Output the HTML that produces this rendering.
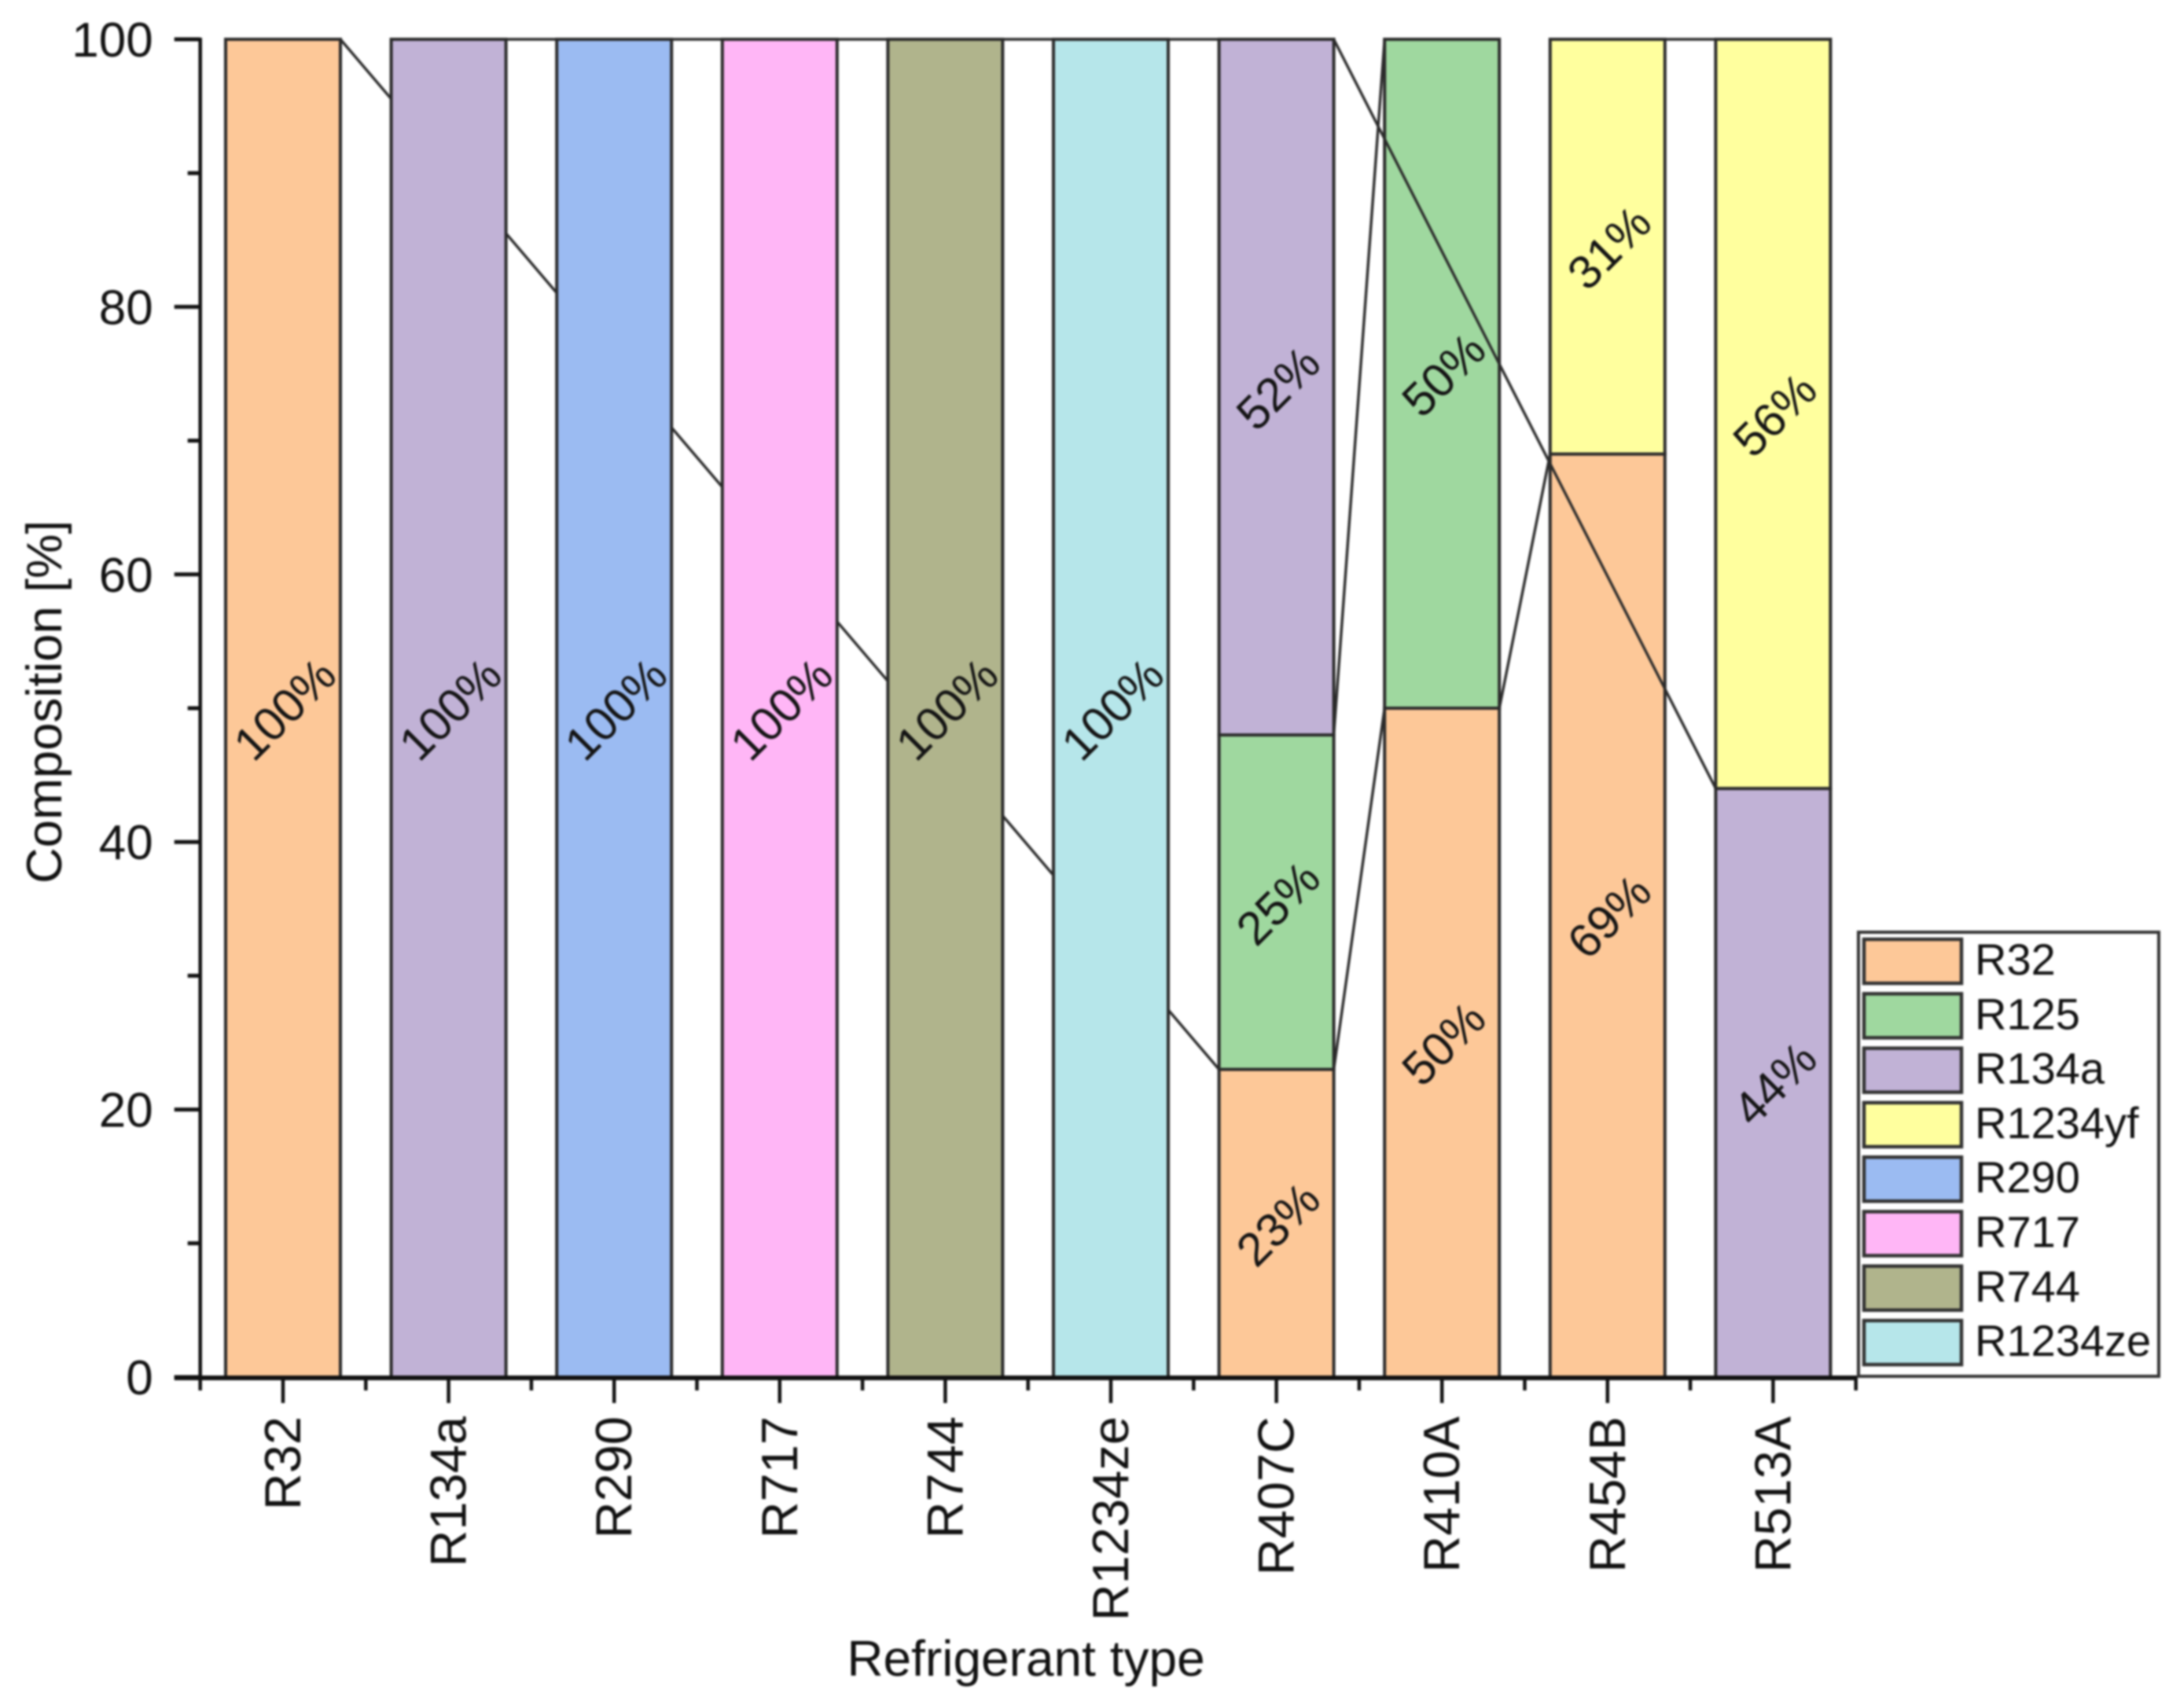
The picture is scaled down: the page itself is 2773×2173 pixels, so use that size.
<!DOCTYPE html>
<html lang="en">
<head>
<meta charset="utf-8">
<title>Refrigerant composition</title>
<style>
html,body{margin:0;padding:0;background:#fff;}
#chart{display:block;width:2773px;height:2173px;filter:blur(1.2px);font-family:"Liberation Sans",sans-serif;}
</style>
</head>
<body>
<svg id="chart" xmlns="http://www.w3.org/2000/svg" width="2773" height="2173" viewBox="0 0 2773 2173"></svg>
<script>
const categories = ["R32","R134a","R290","R717","R744","R1234ze","R407C","R410A","R454B","R513A"];
const seriesNames = ["R32","R125","R134a","R1234yf","R290","R717","R744","R1234ze"];
const seriesColors = ["#FDC898","#9FD89F","#C1B2D6","#FFFF9E","#9BBBF2","#FFB6F6","#B0B48C","#B6E6EA"];
const r32Values = [100,0,0,0,0,0,23,50,69,0];
const r125Values = [0,0,0,0,0,0,25,50,0,0];
const r134aValues = [0,100,0,0,0,0,52,0,0,44];
const r1234yfValues = [0,0,0,0,0,0,0,0,31,56];
const r290Values = [0,0,100,0,0,0,0,0,0,0];
const r717Values = [0,0,0,100,0,0,0,0,0,0];
const r744Values = [0,0,0,0,100,0,0,0,0,0];
const r1234zeValues = [0,0,0,0,0,100,0,0,0,0];
const seriesValues = [r32Values,r125Values,r134aValues,r1234yfValues,r290Values,r717Values,r744Values,r1234zeValues];
const yMajorTicks = [0,20,40,60,80,100];
const yMinorTicks = [10,30,50,70,90];

const svg = document.getElementById('chart');
const NS = 'http://www.w3.org/2000/svg';
const axisLeft = 254.7, stepX = 210.6, barW = 146;
const axisBottom = 1752, unitY = 17.02;
function xScale(i){ return axisLeft + stepX * (i + 0.5); }
function yScale(v){ return axisBottom - unitY * v; }
function mk(tag, attrs, parent){
  const el = document.createElementNS(NS, tag);
  for (const k in attrs) el.setAttribute(k, attrs[k]);
  (parent || svg).appendChild(el);
  return el;
}
function slug(s){ return s.toLowerCase(); }

const ink = '#2b2b2b';
const plot = mk('g', {});



const cum = categories.map(() => 0);
const labelQueue = [];
seriesNames.forEach((name, s) => {
  const vals = seriesValues[s];
  const pts = [];
  vals.forEach((v, i) => {
    if (!v) return;
    const base = cum[i], top = base + v;
    cum[i] = top;
    const r = mk('rect', {x: xScale(i) - barW / 2, y: yScale(top), width: barW, height: yScale(base) - yScale(top), fill: seriesColors[s], stroke: ink, 'stroke-width': 4}, plot);
    
    
    pts.push({i: i, top: top});
    labelQueue.push({i: i, name: name, v: v, mid: base + v / 2});
  });
  for (let k = 0; k + 1 < pts.length; k++) {
    const a = pts[k], b = pts[k + 1];
    const l = mk('line', {x1: xScale(a.i) + barW / 2, y1: yScale(a.top), x2: xScale(b.i) - barW / 2, y2: yScale(b.top), stroke: ink, 'stroke-width': 3.4}, plot);
    
    
  }
});

labelQueue.forEach(q => {
  const cx = xScale(q.i) + 2, cy = yScale(q.mid) + 1;
  const t = mk('text', {x: cx, y: cy + 21, 'text-anchor': 'middle', 'font-size': 60, fill: '#141414', transform: 'rotate(-45 ' + cx + ' ' + cy + ')'});
  t.textContent = q.v + '%';
  
  
});

const axisRight = xScale(categories.length - 1) + stepX / 2;
const yAxis = mk('line', {x1: axisLeft, y1: yScale(100) - 2, x2: axisLeft, y2: axisBottom + 3, stroke: '#111', 'stroke-width': 4.5});


const xAxis = mk('line', {x1: axisLeft - 33, y1: axisBottom + 1, x2: axisRight + 2, y2: axisBottom + 1, stroke: '#111', 'stroke-width': 6});



yMajorTicks.forEach(v => {
  const tk = mk('line', {x1: axisLeft - 33, y1: yScale(v), x2: axisLeft, y2: yScale(v), stroke: '#111', 'stroke-width': 5});
  
  
  const t = mk('text', {x: axisLeft - 60, y: yScale(v) + 22, 'text-anchor': 'end', 'font-size': 62, fill: '#111'});
  t.textContent = v;
  
  
});
yMinorTicks.forEach(v => {
  const tk = mk('line', {x1: axisLeft - 16, y1: yScale(v), x2: axisLeft, y2: yScale(v), stroke: '#111', 'stroke-width': 5});
  
  
});
categories.forEach((c, i) => {
  const x = xScale(i);
  const tk = mk('line', {x1: x, y1: axisBottom, x2: x, y2: axisBottom + 33, stroke: '#111', 'stroke-width': 4.5});
  
  
  const t = mk('text', {x: 0, y: 0, 'text-anchor': 'end', 'font-size': 65, fill: '#111', transform: 'translate(' + (x + 22) + ' ' + (axisBottom + 50) + ') rotate(-90)'});
  t.textContent = c;
  
  
});
for (let i = 0; i <= categories.length; i++) {
  const x = axisLeft + stepX * i;
  const tk = mk('line', {x1: x, y1: axisBottom, x2: x, y2: axisBottom + 17, stroke: '#111', 'stroke-width': 4.5});
  
  
}

const yTitle = mk('text', {x: 0, y: 0, 'text-anchor': 'middle', 'font-size': 63.5, fill: '#111', transform: 'translate(78 893) rotate(-90)'});
yTitle.textContent = 'Composition [%]';


const xTitle = mk('text', {x: 1305, y: 2132, 'text-anchor': 'middle', 'font-size': 64, fill: '#111'});
xTitle.textContent = 'Refrigerant type';



const legend = mk('g', {});


const box = mk('rect', {x: 2364, y: 1186, width: 382, height: 565, fill: '#fff', stroke: '#333', 'stroke-width': 4}, legend);


seriesNames.forEach((name, s) => {
  const y0 = 1195 + s * 69.3;
  const sw = mk('rect', {x: 2371, y: y0, width: 124, height: 56, fill: seriesColors[s], stroke: '#333', 'stroke-width': 4.5}, legend);
  
  
  const t = mk('text', {x: 2512, y: y0 + 45, 'font-size': 56, fill: '#111'}, legend);
  t.textContent = name;
  
  
});
</script>
</body>
</html>
